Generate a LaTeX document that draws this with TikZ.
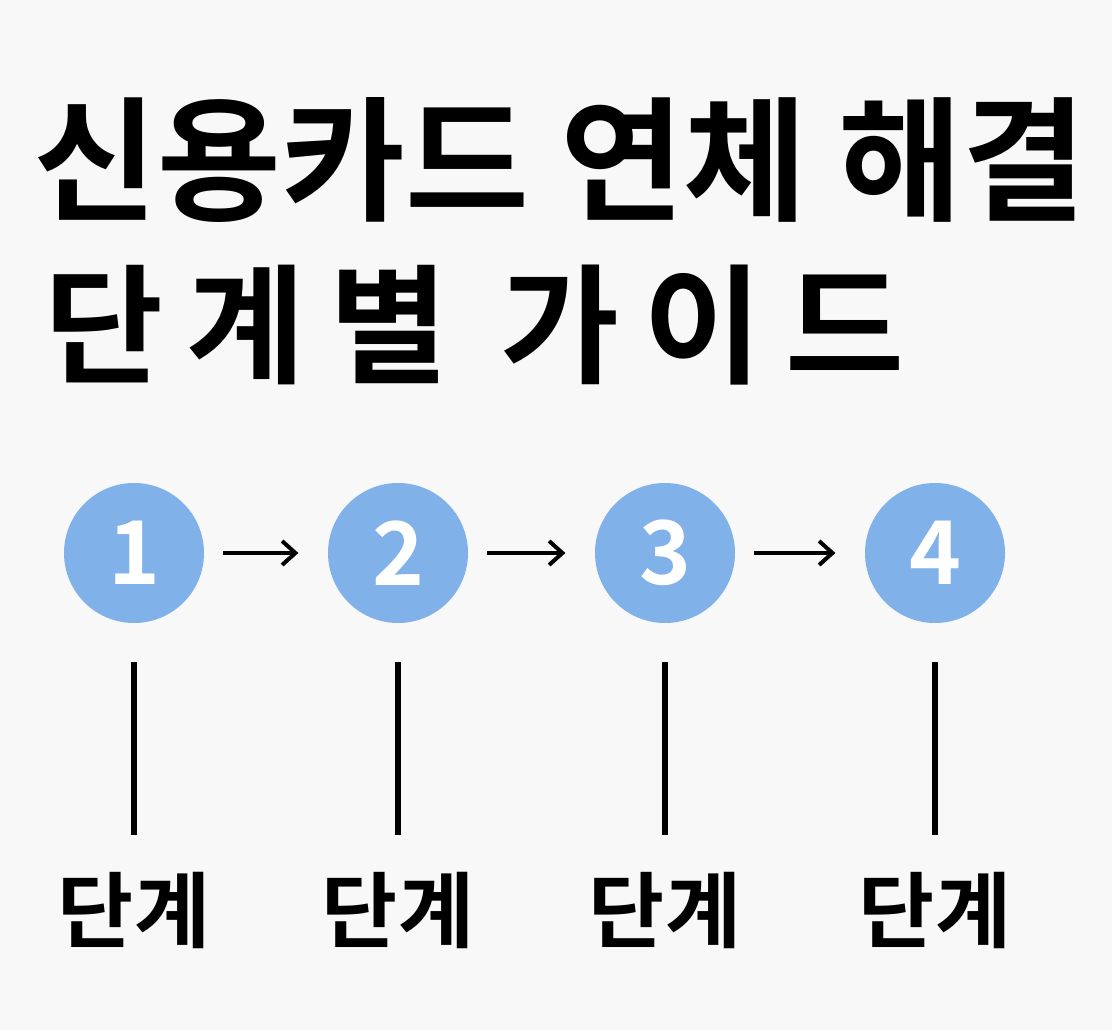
\documentclass[tikz,border=0pt]{standalone}
\usepackage{fontspec}
\newfontfamily\kr{Noto Sans CJK KR}[BoldFont={* Bold}]
\newfontfamily\krs{Noto Sans CJK KR}[BoldFont={* Bold},LetterSpace=18]
\usetikzlibrary{arrows.meta}
\definecolor{bg}{HTML}{F8F8F8}
\definecolor{circ}{HTML}{80B1E9}
\begin{document}
\begin{tikzpicture}[x=0.75pt,y=-0.75pt,
  stepcirc/.style={circle,fill=circ,minimum size=105pt,inner sep=0pt,text=white,font=\kr\bfseries\fontsize{66}{68}\selectfont},
  lbl/.style={font=\kr\bfseries\fontsize{62}{70}\selectfont},
  arr/.style={line width=3pt,-{Straight Barb[length=10pt,width=18pt,line width=3pt]}},
  vline/.style={line width=4pt}]
\fill[bg] (0,0) rectangle (1112,1030);
\useasboundingbox (0,0) rectangle (1112,1030);
\node[font=\kr\bfseries\fontsize{101}{110}\selectfont] (t1) at (560,160) {신용카드 연체 해결};
\node[font=\krs\bfseries\fontsize{97}{110}\selectfont,anchor=west] (t2) at (40,325) {단계별 가이드};
\foreach \i/\x in {1/134,2/398,3/665,4/935}{
  \node[stepcirc] (c\i) at (\x,553) {\i};
  \coordinate (a\i) at (\x,662);
  \coordinate (b\i) at (\x,835);
  \draw[vline] (a\i) -- (b\i);
  \node[lbl] (l\i) at (\x,910) {단계};
}
\foreach \i/\j in {1/2,2/3,3/4}{
  \draw[arr] ([xshift=14pt]c\i.east) -- ([xshift=-22pt]c\j.west);
}
\end{tikzpicture}
\end{document}
